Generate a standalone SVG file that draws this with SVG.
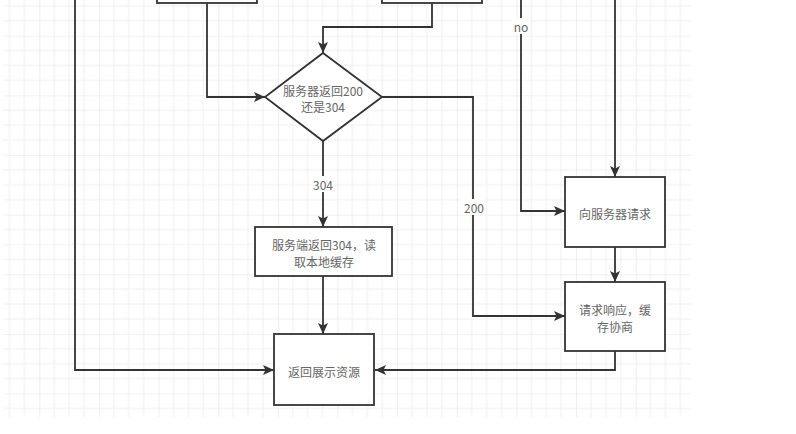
<svg xmlns="http://www.w3.org/2000/svg" width="796" height="434" viewBox="0 0 796 434">
<defs>
<pattern id="grid" patternUnits="userSpaceOnUse" x="39.3" y="35.7" width="59.64" height="59.64">
<path d="M14.91,0V59.64M29.82,0V59.64M44.73,0V59.64M0,14.91H59.64M0,29.82H59.64M0,44.73H59.64" stroke="#efefef" stroke-width="1" fill="none"/>
<path d="M0,0V59.64M0,0H59.64" stroke="#e3e3e3" stroke-width="1.2" fill="none"/>
</pattern>
<marker id="arr" markerUnits="userSpaceOnUse" markerWidth="12" markerHeight="12" refX="11" refY="5" orient="auto" viewBox="0 0 12 10">
<path d="M0,0 L11,5 L0,10 L2.5,5 Z" fill="#333"/>
</marker>
<style>
.n{fill:#fff;stroke:#333;stroke-width:1.8}
.c{fill:none;stroke:#333;stroke-width:1.8}
.t{font-family:"Microsoft YaHei","Noto Sans CJK SC",sans-serif;font-size:12px;fill:#666;text-anchor:middle;dominant-baseline:central}
.lb{fill:#fff}
</style>
</defs>
<rect x="0" y="0" width="796" height="434" fill="#fff"/>
<rect x="3" y="0" width="688" height="417" fill="url(#grid)"/>

<g id="connectors">
<polyline class="c" points="207,3 207,97 265,97" marker-end="url(#arr)"/>
<polyline class="c" points="432,3 432,27 323,27 323,53" marker-end="url(#arr)"/>
<polyline class="c" points="75,0 75,370 274,370" marker-end="url(#arr)"/>
<polyline class="c" points="382,97 473,97 473,316 565,316" marker-end="url(#arr)"/>
<polyline class="c" points="521,0 521,211 565,211" marker-end="url(#arr)"/>
<polyline class="c" points="615,0 615,177" marker-end="url(#arr)"/>
<polyline class="c" points="615,247 615,282" marker-end="url(#arr)"/>
<polyline class="c" points="615,351 615,370 375,370" marker-end="url(#arr)"/>
<polyline class="c" points="323,141 323,227" marker-end="url(#arr)"/>
<polyline class="c" points="323,276 323,334" marker-end="url(#arr)"/>
<rect class="lb" x="311" y="176" width="24" height="16"/>
<text class="t" x="323" y="184">304</text>
<rect class="lb" x="461" y="199" width="24" height="16"/>
<text class="t" x="474" y="207">200</text>
<rect class="lb" x="512" y="18" width="18" height="16"/>
<text class="t" x="521" y="26">no</text>
</g>

<g id="top-left">
<rect class="n" x="157" y="-30" width="100" height="33"/>
</g>
<g id="top-mid">
<rect class="n" x="382" y="-30" width="100" height="33"/>
</g>
<g id="decision">
<polygon class="n" points="323,53 382,97 323,141 265,97"/>
<text class="t" x="323" y="90">服务器返回200</text>
<text class="t" x="323" y="106">还是304</text>
</g>
<g id="local-cache">
<rect class="n" x="255" y="227" width="137" height="49"/>
<text class="t" x="324" y="244">服务端返回304，读</text>
<text class="t" x="324" y="261">取本地缓存</text>
</g>
<g id="show">
<rect class="n" x="274" y="334" width="100" height="71"/>
<text class="t" x="324" y="371">返回展示资源</text>
</g>
<g id="request">
<rect class="n" x="565" y="177" width="100" height="70"/>
<text class="t" x="615" y="213">向服务器请求</text>
</g>
<g id="response">
<rect class="n" x="565" y="282" width="100" height="69"/>
<text class="t" x="615" y="309">请求响应，缓</text>
<text class="t" x="615" y="326">存协商</text>
</g>
</svg>
